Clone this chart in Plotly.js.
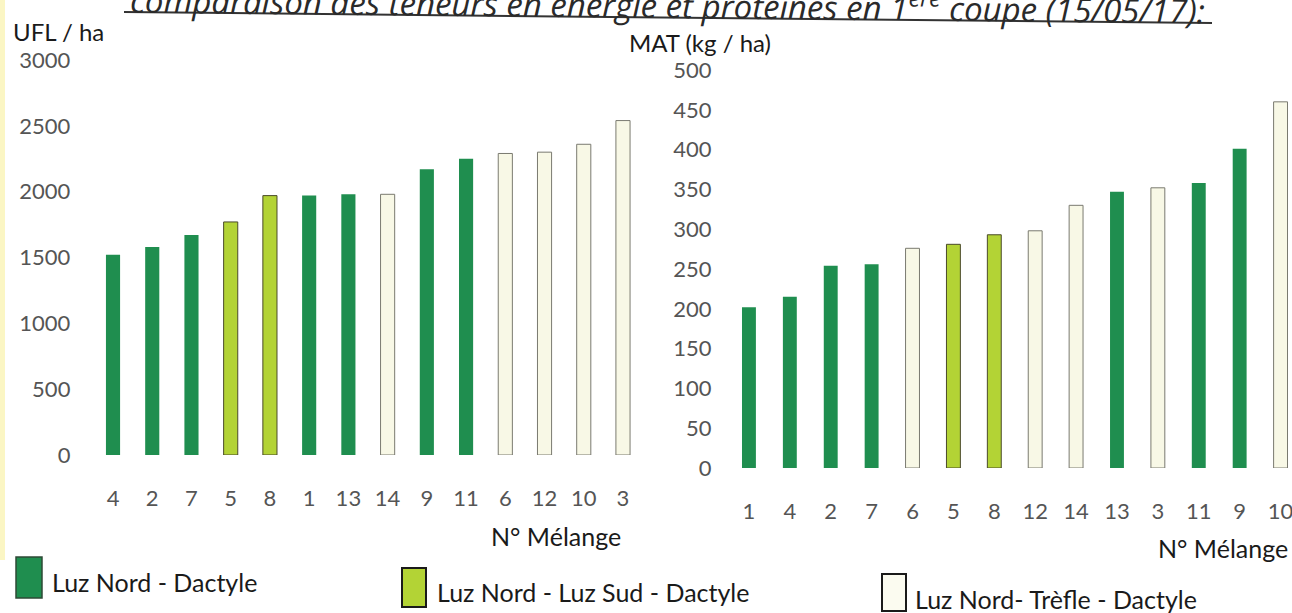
<!DOCTYPE html>
<html>
<head>
<meta charset="utf-8">
<script src="https://cdn.plot.ly/plotly-3.0.1.min.js"></script>
<style>html,body{margin:0;padding:0;background:#fff;}#chart{width:1292px;height:613px;}</style>
</head>
<body>
<div id="chart"></div>
<script>
// ---- data ----
const groupNames = ["Luz Nord - Dactyle", "Luz Nord - Luz Sud - Dactyle", "Luz Nord- Trèfle - Dactyle"];
const groupColors = ["#1f8e4f", "#b3d335", "#f8f8e6"];
const groupLines = ["#1f8e4f", "#4a4a2a", "#7a7a70"];

// Left chart: UFL / ha
const uflMelanges = ["4", "2", "7", "5", "8", "1", "13", "14", "9", "11", "6", "12", "10", "3"];
const uflValues   = [1520, 1580, 1670, 1770, 1970, 1970, 1980, 1980, 2170, 2250, 2290, 2300, 2360, 2540];
const uflGroups   = [0, 0, 0, 1, 1, 0, 0, 2, 0, 0, 2, 2, 2, 2];

// Right chart: MAT (kg / ha)
const matMelanges = ["1", "4", "2", "7", "6", "5", "8", "12", "14", "13", "3", "11", "9", "10"];
const matValues   = [202, 215, 254, 256, 276, 281, 293, 298, 330, 347, 352, 358, 401, 460];
const matGroups   = [0, 0, 0, 0, 2, 1, 1, 2, 2, 0, 2, 0, 0, 2];

const titleText = "<i>comparaison des teneurs en énergie et protéines en 1<sup>ère</sup> coupe (15/05/17):</i>";

// ---- build traces ----
function buildTraces(cats, vals, groups, xa, ya, w) {
  const traces = [];
  for (let g = 0; g < groupNames.length; g++) {
    const x = [], y = [];
    cats.forEach((c, i) => { if (groups[i] === g) { x.push(c); y.push(vals[i]); } });
    traces.push({
      type: "bar", x: x, y: y, xaxis: xa, yaxis: ya, width: w,
      name: groupNames[g], showlegend: false, hoverinfo: "x+y",
      marker: { color: groupColors[g], line: { color: groupLines[g], width: g === 0 ? 0 : 1 } }
    });
  }
  return traces;
}

const data = [].concat(
  buildTraces(uflMelanges, uflValues, uflGroups, "x", "y", 0.36),
  buildTraces(matMelanges, matValues, matGroups, "x2", "y2", 0.34)
);

const W = 1292, H = 613;
const px = v => v / W, py = v => 1 - v / H;
const tickFont = { family: "Lato, 'Open Sans', sans-serif", size: 22, color: "#555555" };
const labFont = { family: "Lato, 'Open Sans', sans-serif", size: 25, color: "#1a1a1a" };
const labFontSm = { family: "Lato, 'Open Sans', sans-serif", size: 24, color: "#1a1a1a" };

const layout = {
  width: W, height: H,
  margin: { l: 0, r: 0, t: 0, b: 0 },
  paper_bgcolor: "#ffffff", plot_bgcolor: "rgba(0,0,0,0)",
  barmode: "overlay",
  font: tickFont,
  xaxis: {
    domain: [px(93.4), px(642.6)], anchor: "y",
    type: "category", categoryorder: "array", categoryarray: uflMelanges,
    range: [-0.5, 13.5], showgrid: false, zeroline: false, showline: false, ticks: "",
    tickfont: tickFont, ticklabelstandoff: 28, fixedrange: true
  },
  yaxis: {
    domain: [py(455), py(60)], anchor: "x",
    range: [0, 3000], dtick: 500, showgrid: false, zeroline: false, showline: false, ticks: "",
    tickfont: tickFont, ticklabelstandoff: 22, fixedrange: true
  },
  xaxis2: {
    domain: [px(728.5), 1], anchor: "y2",
    type: "category", categoryorder: "array", categoryarray: matMelanges,
    range: [-0.5, 13.28], showgrid: false, zeroline: false, showline: false, ticks: "",
    tickfont: tickFont, ticklabelstandoff: 28, fixedrange: true
  },
  yaxis2: {
    domain: [py(468), py(70)], anchor: "x2",
    range: [0, 500], dtick: 50, showgrid: false, zeroline: false, showline: false, ticks: "",
    tickfont: tickFont, ticklabelstandoff: 16, fixedrange: true
  },
  shapes: [
    // scan edge tint
    { type: "rect", xref: "paper", yref: "paper", x0: 0, x1: px(5), y0: py(560), y1: 1, fillcolor: "#fbf6c4", line: { width: 0 }, layer: "below" },
    // title underline (slightly tilted like the scan)
    { type: "line", xref: "paper", yref: "paper", x0: px(124), x1: px(1212), y0: py(12), y1: py(23), line: { color: "#333333", width: 2 } },
    // legend swatches
    { type: "rect", xref: "paper", yref: "paper", x0: px(16), x1: px(42), y0: py(598), y1: py(557), fillcolor: groupColors[0], line: { color: "#2e4a36", width: 1.5 } },
    { type: "rect", xref: "paper", yref: "paper", x0: px(402), x1: px(426), y0: py(607), y1: py(568), fillcolor: groupColors[1], line: { color: "#1a1a1a", width: 2 } },
    { type: "rect", xref: "paper", yref: "paper", x0: px(882), x1: px(906), y0: py(611), y1: py(574), fillcolor: "#fbfbf0", line: { color: "#1a1a1a", width: 2 } }
  ],
  annotations: [
    { text: titleText, xref: "paper", yref: "paper", x: px(667), y: py(3), xanchor: "center", yanchor: "middle",
      textangle: 0.57, showarrow: false, font: { family: "'Open Sans', Lato, sans-serif", size: 33, color: "#2a2a2a" } },
    { text: "UFL / ha", xref: "paper", yref: "paper", x: px(11), y: py(32), xanchor: "left", yanchor: "middle", showarrow: false, font: labFontSm },
    { text: "MAT (kg / ha)", xref: "paper", yref: "paper", x: px(627), y: py(42), xanchor: "left", yanchor: "middle", showarrow: false, font: labFontSm },
    { text: "N° Mélange", xref: "paper", yref: "paper", x: px(623), y: py(536), xanchor: "right", yanchor: "middle", showarrow: false, font: labFont },
    { text: "N° Mélange", xref: "paper", yref: "paper", x: px(1290), y: py(548), xanchor: "right", yanchor: "middle", showarrow: false, font: labFont },
    { text: groupNames[0], xref: "paper", yref: "paper", x: px(50), y: py(582), xanchor: "left", yanchor: "middle", showarrow: false, font: labFont },
    { text: groupNames[1], xref: "paper", yref: "paper", x: px(435), y: py(592), xanchor: "left", yanchor: "middle", showarrow: false, font: labFont },
    { text: groupNames[2], xref: "paper", yref: "paper", x: px(913), y: py(599), xanchor: "left", yanchor: "middle", showarrow: false, font: labFont }
  ]
};

Plotly.newPlot("chart", data, layout, { displayModeBar: false, responsive: false });
</script>
</body>
</html>
